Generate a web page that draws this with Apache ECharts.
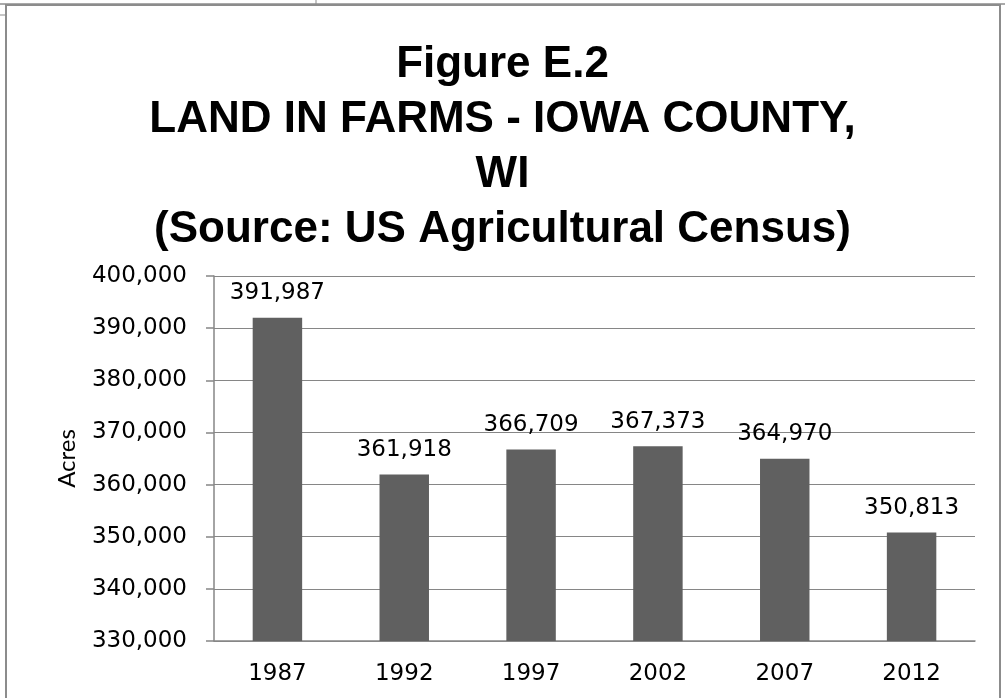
<!DOCTYPE html>
<html>
<head>
<meta charset="utf-8">
<script src="https://cdn.jsdelivr.net/npm/echarts@6/dist/echarts.min.js"></script>
<style>
  html, body { margin: 0; padding: 0; background: #fff; }
  #chart { width: 1005px; height: 698px; }
</style>
</head>
<body>
<div id="chart"></div>
<script>
// data
var years = ["1987", "1992", "1997", "2002", "2007", "2012"];
var acres = [391987, 361918, 366709, 367373, 364970, 350813];
var yMin = 330000;
var yMax = 400000;
var yStep = 10000;

var fmt = function (v) { return v.toLocaleString("en-US"); };

var chart = echarts.init(document.getElementById("chart"));

var option = {
  animation: false,
  title: {
    text: "Figure E.2\nLAND IN FARMS - IOWA COUNTY,\nWI\n(Source: US Agricultural Census)",
    left: "center",
    top: 32,
    textStyle: {
      fontFamily: "Liberation Sans",
      fontWeight: "bold",
      fontSize: 44,
      lineHeight: 55,
      color: "#000"
    }
  },
  grid: { left: 214, right: 30, top: 276, bottom: 57 },
  xAxis: {
    type: "category",
    data: years,
    axisLine: { lineStyle: { color: "#868686", width: 1.5 } },
    axisTick: { show: false },
    axisLabel: { fontFamily: "DejaVu Sans", fontSize: 23, color: "#000", margin: 22 }
  },
  yAxis: {
    type: "value",
    min: yMin,
    max: yMax,
    interval: yStep,
    name: "Acres",
    nameLocation: "middle",
    nameGap: 135,
    nameTextStyle: { fontFamily: "Lato", fontSize: 24, color: "#000" },
    axisLine: { show: true, lineStyle: { color: "#868686", width: 1.5 } },
    axisTick: { show: true, length: 8, lineStyle: { color: "#868686", width: 1.5 } },
    splitLine: { lineStyle: { color: "#868686", width: 1.2 } },
    axisLabel: {
      fontFamily: "DejaVu Sans", fontSize: 23, color: "#000", margin: 27,
      formatter: fmt
    }
  },
  series: [{
    type: "bar",
    data: acres,
    barWidth: "39%",
    itemStyle: { color: "#606060" },
    label: {
      show: true,
      position: "top",
      distance: 13,
      fontFamily: "DejaVu Sans",
      fontSize: 23,
      color: "#000",
      formatter: function (p) { return fmt(p.value); }
    }
  }],
  graphic: [
    { type: "rect", shape: { x: 6, y: 5, width: 994, height: 720 },
      style: { fill: "none", stroke: "#8c8c8c", lineWidth: 2 } },
    { type: "line", shape: { x1: 0, y1: 4, x2: 1005, y2: 4 },
      style: { stroke: "#8c8c8c", lineWidth: 1.5 } },
    { type: "line", shape: { x1: 316, y1: 0, x2: 316, y2: 4 },
      style: { stroke: "#8c8c8c", lineWidth: 1 } },
    { type: "line", shape: { x1: 0, y1: 15, x2: 6, y2: 15 },
      style: { stroke: "#8c8c8c", lineWidth: 1 } }
  ]
};

chart.setOption(option);
</script>
</body>
</html>
